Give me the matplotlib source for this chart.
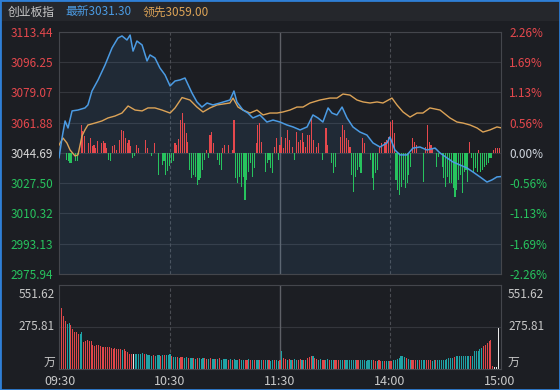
import matplotlib
matplotlib.use('Agg')
import matplotlib.pyplot as plt
from matplotlib.patches import Rectangle
import numpy as np

plt.rcParams['font.family'] = ['Noto Sans CJK SC', 'DejaVu Sans']

# ---- data (minutes from 09:30, 11:30 == 13:00 == 120) ----
prev_close = 3044.69
price_ticks = [3113.44, 3096.25, 3079.07, 3061.88, 3044.69, 3027.50, 3010.32, 2993.13, 2975.94]
pct_labels = ['2.26%', '1.69%', '1.13%', '0.56%', '0.00%', '-0.56%', '-1.13%', '-1.69%', '-2.26%']
time_ticks = [0, 60, 120, 180, 240]
time_labels = ['09:30', '10:30', '11:30', '14:00', '15:00']

idx_min = [0, 1.6, 3.3, 4.9, 7.1, 10.3, 14.1, 15.7, 17.9, 21.2, 25.0, 28.8, 32.0, 34.2, 36.9, 38.6,
           40.2, 42.3, 45.1, 47.8, 49.4, 52.1, 54.8, 57.6, 60.3, 63.0, 65.7, 68.4, 72.2, 74.9, 77.6,
           80.4, 83.6, 87.4, 92.8, 95.0, 96.6, 99.9, 102.6, 105.3, 109.1, 112.9, 116.2, 120, 123.8,
           127.1, 130.9, 134.7, 137.9, 140.6, 143.3, 146.1, 148.2, 150.9, 153.7, 156.4, 159.6, 163.4,
           167.2, 170.5, 174.3, 178.1, 179.7, 182.4, 185.2, 189.0, 192.2, 196.0, 199.8, 204.2, 206.9,
           210.7, 213.9, 217.7, 221.5, 224.8, 228.6, 232.4, 235.1, 237.8, 240]
idx_price = [3042.0, 3053.0, 3062.9, 3058.9, 3068.6, 3069.1, 3070.3, 3072.0, 3079.9, 3086.2, 3094.7,
             3104.4, 3110.0, 3111.2, 3108.9, 3111.7, 3102.6, 3108.3, 3106.1, 3097.0, 3100.4, 3098.7,
             3093.0, 3089.0, 3082.8, 3085.6, 3086.2, 3087.3, 3078.8, 3073.7, 3070.8, 3073.1, 3072.0,
             3073.1, 3074.8, 3079.9, 3073.7, 3069.1, 3067.4, 3064.6, 3066.3, 3062.3, 3063.4, 3062.3,
             3060.6, 3059.5, 3057.8, 3059.5, 3066.3, 3064.6, 3062.3, 3070.3, 3067.4, 3066.3, 3070.8,
             3064.6, 3059.5, 3056.6, 3054.9, 3050.4, 3048.1, 3050.4, 3053.8, 3046.4, 3043.6, 3043.6,
             3047.5, 3048.1, 3046.4, 3047.5, 3044.7, 3041.9, 3039.6, 3037.9, 3036.2, 3033.9, 3031.1,
             3028.2, 3029.4, 3031.1, 3031.3]

lead_min = [0, 2.2, 4.3, 6.0, 8.7, 10.3, 12.5, 14.1, 15.7, 19.5, 23.3, 26.6, 30.4, 34.2, 37.5, 41.3,
            45.1, 48.3, 52.1, 55.9, 60.3, 63.0, 66.8, 71.1, 74.9, 78.2, 82.0, 85.8, 89.0, 92.8, 94.5,
            97.2, 99.9, 103.7, 107.5, 110.8, 114.6, 118.4, 121.6, 125.4, 129.2, 132.5, 136.3, 141.7,
            147.1, 150.9, 154.2, 158.0, 161.8, 165.1, 168.9, 172.7, 175.9, 180.8, 183.5, 186.8, 190.6,
            194.4, 197.6, 201.4, 206.9, 212.3, 216.1, 219.4, 223.2, 227.0, 230.2, 234.0, 237.8, 240]
lead_price = [3049.2, 3053.2, 3050.4, 3046.4, 3043.0, 3043.6, 3054.4, 3057.8, 3060.6, 3061.7, 3062.9,
              3064.6, 3065.7, 3067.4, 3071.4, 3069.1, 3068.6, 3070.3, 3070.3, 3069.1, 3067.4, 3070.3,
              3076.2, 3074.8, 3070.8, 3068.0, 3070.3, 3072.0, 3072.5, 3073.1, 3075.9, 3070.8, 3069.1,
              3067.4, 3069.1, 3066.3, 3067.4, 3067.4, 3068.0, 3069.1, 3070.8, 3070.8, 3073.1, 3074.8,
              3075.9, 3075.9, 3078.2, 3077.6, 3074.8, 3073.7, 3073.1, 3073.7, 3073.1, 3075.9, 3072.0,
              3068.0, 3065.1, 3067.4, 3067.4, 3070.3, 3069.1, 3064.6, 3062.3, 3061.7, 3060.6, 3058.9,
              3056.6, 3057.8, 3059.5, 3059.0]

# buy/sell strength bars around the zero line
str_min = [4, 5, 6, 7, 9, 10, 12, 13, 14, 16, 17, 18, 19, 20, 21, 23, 24, 25, 26, 27, 28, 29, 30, 31,
           33, 34, 35, 36, 37, 38, 39, 40, 41, 42, 43, 47, 48, 50, 52, 54, 56, 57, 58, 59, 60, 61, 62,
           63, 64, 65, 66, 67, 68, 69, 70, 71, 72, 73, 74, 75, 76, 77, 78, 79, 80, 81, 82, 83, 84, 86,
           87, 88, 89, 90, 92, 94, 95, 96, 97, 98, 99, 100, 101, 102, 103, 104, 105, 106, 107, 108,
           109, 110, 112, 113, 114, 115, 116, 117, 118, 119, 120, 121, 122, 123, 124, 125, 127, 128,
           129, 130, 131, 132, 133, 134, 135, 136, 137, 138, 140, 141, 143, 145, 146, 148, 149, 150,
           153, 154, 155, 156, 157, 158, 159, 160, 161, 162, 163, 164, 165, 166, 169, 170, 171, 172,
           173, 174, 175, 177, 178, 179, 180, 181, 182, 183, 184, 185, 186, 187, 188, 189, 190, 191,
           192, 193, 194, 198, 199, 200, 201, 202, 203, 205, 206, 208, 209, 210, 211, 212, 213, 214,
           215, 216, 217, 218, 219, 220, 221, 222, 223, 224, 225, 226, 227, 228, 229, 230, 231, 232,
           233, 234, 235, 236, 237, 238, 239]
str_val = [-6.7, -8.3, -10, -10, -8.3, -8.3, 28.3, 21.7, 16.7, 10, 15, 6.7, 8.3, 5, 11.7, 10, 11.7,
           10, 5, -6.7, -8.3, 6.7, 8.3, 3.3, 13.3, 23.3, 21.7, 15, 10, 13.3, 6.7, -5, -3.3, 8.3, 5,
           13.3, 5, -3.3, 10, -21.7, -11.7, -8.3, -21.7, -18.3, -13.3, -10, -8.3, 10, 8, 14, 33, 40,
           30, 20, 11, -17, -25.3, -22, -23.7, -32, -27, -25.3, -17, -7, 3, -5.3, 18, 21.3, 9.7, -7,
           -12, -17, 4.7, 8, 8, 3, 33, -25.3, -30.3, -23.7, -33.7, -23.7, -47, -27, -18.7, -10.3,
           -23.7, -15.3, 9.7, 28, 29.7, 11.3, -18.7, -10.3, -7, -15.3, -20.3, 6.3, 14.7, -7, 8, 16.3,
           4.7, 14.7, 23, 13, 6.3, -7, 21.3, 11.3, 13, 19.7, 11.3, 6.3, 18, 18, 34.7, 13, 6.3, 9.7,
           -7, 24.7, 8, -10.3, -20.3, -13.7, 16.3, 28, 23, 14.7, 13, 6.3, -22, -38.7, -23.7, -17,
           -13.7, -20.3, 14.7, 9.7, -7, -25.3, -37, -20.3, -17, 6.3, 9.7, 11.3, 13, 16.3, 31.3, 33,
           19.7, -27, -37, -42, -33.7, -27, -35.3, -30.3, -22, -13.7, 14.7, 11.3, 8, -28.7, 6.3, 28,
           11.3, 8, 4.7, -13.7, -3.7, -13.7, -25.3, -33.7, -23.7, -30.3, -30.3, -35.3, -43.7, -37,
           -27, -22, -40.3, -18.7, -17, -28.7, 11, -5.3, -20.3, -15.3, -18.7, 3, -18.7, -17, -13.7,
           -12, -10.3, -5.3, -5.3, 3, 4.7, 4.7, 4.7]

# volume per minute (10k shares), 241 bars
volume = [551.6, 400, 346, 313, 295, 300, 291, 260, 241, 240, 228, 230, 240, 180, 182, 190, 185, 186,
          160, 150, 160, 155, 150, 147, 147, 143, 147, 143, 140, 133, 138, 133, 130, 133, 125, 133,
          118, 110, 100, 100, 100, 100, 98, 100, 100, 103, 100, 98, 95, 90, 88, 90, 88, 92, 90, 88,
          90, 92, 95, 90, 100,
          85, 80, 78, 82, 75, 80, 78, 72, 76, 74, 70, 75, 72, 68, 74, 70, 66, 72, 70, 68, 66, 70, 65,
          68, 64, 66, 70, 62, 65, 68, 64, 60, 66, 62, 64, 60, 62, 65, 60, 58, 62, 60, 64, 58, 60, 62,
          58, 56, 60, 58, 62, 56, 58, 60, 55, 58, 56, 60, 55, 58,
          120, 70, 65, 60, 68, 62, 58, 64, 60, 62, 66, 60, 58, 62, 70, 76, 88, 84, 70, 66, 62, 64,
          60, 58, 62, 64, 60, 58, 62, 60, 56, 60, 62, 58, 60, 62, 58, 56, 60, 58, 62, 60, 58, 56,
          60, 58, 55, 58, 60, 56, 58, 55, 52, 56, 54, 52, 50, 55, 52, 50,
          55, 60, 62, 66, 70, 88, 86, 80, 70, 66, 62, 60, 58, 62, 60, 58, 60, 56, 58, 60, 56, 58, 55,
          58, 56, 58, 60, 62, 58, 60, 66, 72, 70, 74, 80, 84, 86, 88, 86, 84, 88, 86, 88, 84, 86, 115,
          118, 120, 130, 140, 150, 160, 172, 185, 193, 18, 15, 15, 270]
vol_dir = ''.join([
    'rrrrggrrrr', 'rggrrrrrrr', 'rrrrrrrrrr', 'rrrrgrrrrr', 'wgggggrggg', 'grgggrgrgg',
    'grggrgrrgg', 'rggrgrgggr', 'rgrggrgrgg', 'ggrgrgggrg', 'grrgrgrggr', 'grggrggrgg',
    'rgrrgrgrgg', 'rrgrgrrrgr', 'rggrrggrgg', 'rrrggrgggg', 'ggrrgggggg', 'grrgrrgrgg',
    'rrgggggggr', 'ggrrrgrggg', 'rrrggrgggg', 'gggggrgggg', 'ggggrggggg', 'grrrrrrwww', 'g'])

BG = '#1c1e23'
RED = '#e5484d'
GREEN = '#27c35e'
BLUE = '#4b9be3'
ORANGE = '#dca357'
GRID = '#34363c'
TXT = '#c8c8c8'
STRENGTH_SCALE = 0.568
FS = 8.5

fig = plt.figure(figsize=(5.6, 3.9), dpi=100, facecolor=BG)
fig.patches.append(Rectangle((0, 1 - 21 / 390), 1, 21 / 390, transform=fig.transFigure,
                             facecolor='#25272c', edgecolor='none', zorder=-1))
fig.patches.append(Rectangle((0, 0), 1, 1, transform=fig.transFigure, fill=False,
                             edgecolor='#2f7fd6', lw=2))

fig.text(8 / 560, 1 - 12 / 390, '创业板指', color=TXT, fontsize=8.5, va='center')
fig.text(65 / 560, 1 - 12 / 390, '最新%.2f' % idx_price[-1], color=BLUE, fontsize=8.5, va='center')
fig.text(143 / 560, 1 - 12 / 390, '领先%.2f' % lead_price[-1], color=ORANGE, fontsize=8.5, va='center')

# ---- price panel ----
ax = fig.add_axes([59 / 560, 1 - 274 / 390, 442 / 560, 242 / 390], facecolor=BG)
ax.set_xlim(0, 240)
ax.set_ylim(price_ticks[-1], price_ticks[0])
for p in price_ticks:
    ax.axhline(p, color=GRID, lw=0.8, zorder=0)
ax.axvline(60, color='#4a4c52', lw=0.8, ls=(0, (3, 2)), zorder=0)
ax.axvline(120, color='#5e6066', lw=1.0, zorder=0)
ax.axvline(180, color='#4a4c52', lw=0.8, ls=(0, (3, 2)), zorder=0)

sv = np.array(str_val) * STRENGTH_SCALE
ax.bar(str_min, sv, bottom=prev_close, width=0.6, antialiased=False,
       color=[RED if v > 0 else GREEN for v in sv], zorder=2)
ax.fill_between(idx_min, idx_price, price_ticks[-1], color=BLUE, alpha=0.10, lw=0, zorder=1)
ax.plot(lead_min, lead_price, color=ORANGE, lw=1.0, zorder=3)
ax.plot(idx_min, idx_price, color=BLUE, lw=1.1, zorder=4)

ax.set_yticks(price_ticks)
ax.set_yticklabels(['%.2f' % p for p in price_ticks], fontsize=FS)
ax.set_xticks([])
ax.tick_params(axis='y', length=0, pad=4)
for lab, p in zip(ax.get_yticklabels(), price_ticks):
    lab.set_color(RED if p > prev_close else (GREEN if p < prev_close else '#d8d8d8'))
for s in ax.spines.values():
    s.set_color('#44464c')

ax2 = ax.twinx()
ax2.set_ylim(ax.get_ylim())
ax2.set_yticks(price_ticks)
ax2.set_yticklabels(pct_labels, fontsize=FS)
ax2.tick_params(axis='y', length=0, pad=6)
for lab, p in zip(ax2.get_yticklabels(), price_ticks):
    lab.set_color(RED if p > prev_close else (GREEN if p < prev_close else '#d0d6de'))
for s in ax2.spines.values():
    s.set_visible(False)

# ---- volume panel ----
vx = fig.add_axes([59 / 560, 1 - 369 / 390, 442 / 560, 84 / 390], facecolor=BG)
vmax = 551.62
vx.set_xlim(-0.5, 240.5)
vx.set_ylim(0, vmax)
vx.axhline(vmax / 2, color=GRID, lw=0.8, zorder=0)
vx.axvline(60, color='#4a4c52', lw=0.8, ls=(0, (3, 2)), zorder=0)
vx.axvline(120, color='#5e6066', lw=1.0, zorder=0)
vx.axvline(180, color='#4a4c52', lw=0.8, ls=(0, (3, 2)), zorder=0)
cmap = {'r': '#e0474a', 'g': '#1fa3a6', 'w': '#e8e8e8'}
vx.bar(np.arange(len(volume)), volume, width=0.6, antialiased=False,
       color=[cmap[c] for c in vol_dir], zorder=2)
for s in vx.spines.values():
    s.set_color('#44464c')
vx.set_yticks([])
vx.set_xticks(time_ticks)
vx.set_xticklabels(time_labels, fontsize=9, color=TXT)
vx.tick_params(axis='x', length=0, pad=4)

for xpos, ha, dx in [(0, 'right', -4), (1, 'left', 7)]:
    for val, txt in [(vmax - 9 * 6.57, '%.2f' % vmax), (vmax / 2, '%.2f' % (vmax / 2)), (46, '万')]:
        vx.annotate(txt, (xpos, val), xycoords=('axes fraction', 'data'), xytext=(dx, 0),
                    textcoords='offset pixels', ha=ha, va='center', fontsize=FS, color=TXT)

fig.savefig('out.png', dpi=100, facecolor=BG)
